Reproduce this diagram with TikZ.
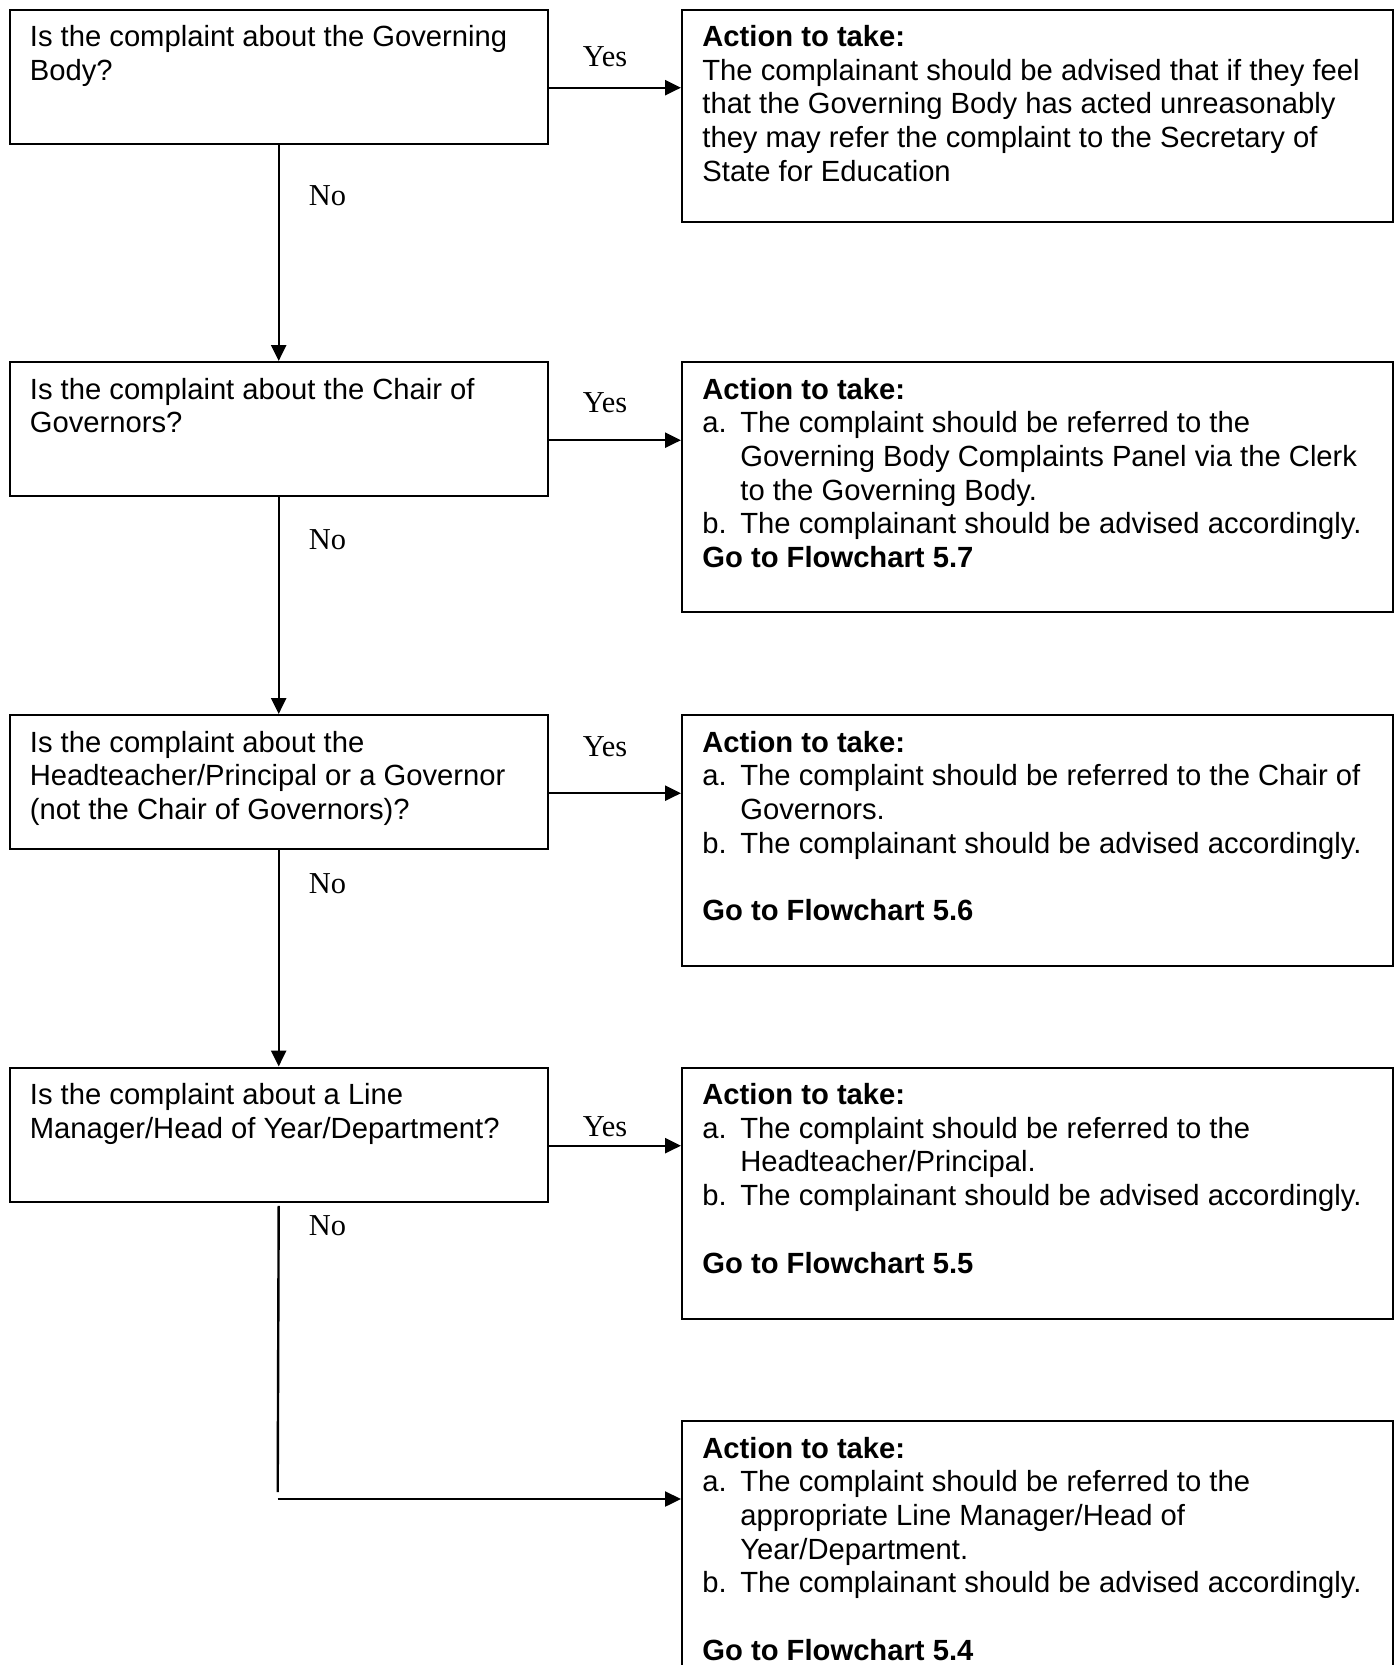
\documentclass[tikz,border=0pt]{standalone}
\usepackage{fontspec}
\newfontfamily\boxfont{Liberation Sans}
\newfontfamily\ynfont{Liberation Serif}
\usetikzlibrary{arrows.meta}

\newcommand{\itm}[1]{\makebox[19pt][l]{#1}}
\newcommand{\ind}{\hspace*{19pt}}

\begin{document}
\begin{tikzpicture}[x=0.5pt,y=-0.5pt,>={Triangle[length=8pt,width=7.5pt]},
  qbox/.style={draw,line width=1.2pt,anchor=north west,inner sep=0pt,minimum width=269pt,minimum height=67pt},
  abox/.style={draw,line width=1.2pt,anchor=north west,inner sep=0pt,minimum width=355.25pt},
  boxtext/.style={anchor=north west,inner sep=0pt,align=left,execute at begin node=\strut,
    font=\boxfont\fontsize{14.6}{16.85}\selectfont},
  yn/.style={anchor=base,inner sep=0pt,font=\ynfont\fontsize{15.2}{17}\selectfont},
  flow/.style={->,line width=1.2pt}]
\useasboundingbox (0,0) rectangle (1400,1665);
% question boxes
\node[qbox] (q1) at (8.5,8.5) {};
\node[qbox] (q2) at (8.5,361) {};
\node[qbox] (q3) at (8.5,714) {};
\node[qbox] (q4) at (8.5,1066.5) {};
% action boxes
\node[abox,minimum height=106.25pt] (a1) at (681,8.5) {};
\node[abox,minimum height=125pt] (a2) at (681,361) {};
\node[abox,minimum height=125.25pt] (a3) at (681,714) {};
\node[abox,minimum height=125.75pt] (a4) at (681,1066.5) {};
\node[abox,minimum height=126pt] (a5) at (681,1420) {};
% texts
\node[boxtext] (q1txt) at ([shift={(21,16.5)}]q1.north west) {Is the complaint about the Governing\\Body?};
\node[boxtext] (q2txt) at ([shift={(21,16.5)}]q2.north west) {Is the complaint about the Chair of\\Governors?};
\node[boxtext] (q3txt) at ([shift={(21,16.5)}]q3.north west) {Is the complaint about the\\Headteacher/Principal or a Governor\\(not the Chair of Governors)?};
\node[boxtext] (q4txt) at ([shift={(21,16.5)}]q4.north west) {Is the complaint about a Line\\Manager/Head of Year/Department?};
\node[boxtext] (a1txt) at ([shift={(21,16.5)}]a1.north west) {\textbf{Action to take:}\\
  The complainant should be advised that if they feel\\
  that the Governing Body has acted unreasonably\\
  they may refer the complaint to the Secretary of\\
  State for Education};
\node[boxtext] (a2txt) at ([shift={(21,16.5)}]a2.north west) {\textbf{Action to take:}\\
  \itm{a.}The complaint should be referred to the\\
  \ind Governing Body Complaints Panel via the Clerk\\
  \ind to the Governing Body.\\
  \itm{b.}The complainant should be advised accordingly.\\
  \textbf{Go to Flowchart 5.7}};
\node[boxtext] (a3txt) at ([shift={(21,16.5)}]a3.north west) {\textbf{Action to take:}\\
  \itm{a.}The complaint should be referred to the Chair of\\
  \ind Governors.\\
  \itm{b.}The complainant should be advised accordingly.\\[16.85pt]
  \textbf{Go to Flowchart 5.6}};
\node[boxtext] (a4txt) at ([shift={(21,16.5)}]a4.north west) {\textbf{Action to take:}\\
  \itm{a.}The complaint should be referred to the\\
  \ind Headteacher/Principal.\\
  \itm{b.}The complainant should be advised accordingly.\\[16.85pt]
  \textbf{Go to Flowchart 5.5}};
\node[boxtext] (a5txt) at ([shift={(21,16.5)}]a5.north west) {\textbf{Action to take:}\\
  \itm{a.}The complaint should be referred to the\\
  \ind appropriate Line Manager/Head of\\
  \ind Year/Department.\\
  \itm{b.}The complainant should be advised accordingly.\\[16.85pt]
  \textbf{Go to Flowchart 5.4}};
% yes / no labels
\node[yn] (yes1) at (605,66.7) {Yes};
\node[yn] (yes2) at (605,412.6) {Yes};
\node[yn] (yes3) at (605,756.7) {Yes};
\node[yn] (yes4) at (605,1136) {Yes};
\node[yn] (no1) at (327.5,205) {No};
\node[yn] (no2) at (327.5,549) {No};
\node[yn] (no3) at (327.5,893) {No};
\node[yn] (no4) at (327.5,1235) {No};
% yes arrows
\draw[flow] ([yshift=-5.5pt]q1.east) -- ([yshift=-5.5pt]q1.east -| a1.west);
\draw[flow] ([yshift=-5.5pt]q2.east) -- ([yshift=-5.5pt]q2.east -| a2.west);
\draw[flow] ([yshift=-5.5pt]q3.east) -- ([yshift=-5.5pt]q3.east -| a3.west);
\draw[flow] ([yshift=-5.5pt]q4.east) -- ([yshift=-5.5pt]q4.east -| a4.west);
% no arrows
\draw[flow] (q1.south) -- (q2.north);
\draw[flow] (q2.south) -- (q3.north);
\draw[flow] (q3.south) -- (q4.north);
\coordinate (bend) at (277.7,1499);
\draw[line width=1.2pt] ([yshift=-1.5pt]q4.south) -- ([yshift=3.5pt]bend);
\draw[flow] (bend) -- (bend -| a5.west);
\end{tikzpicture}
\end{document}
